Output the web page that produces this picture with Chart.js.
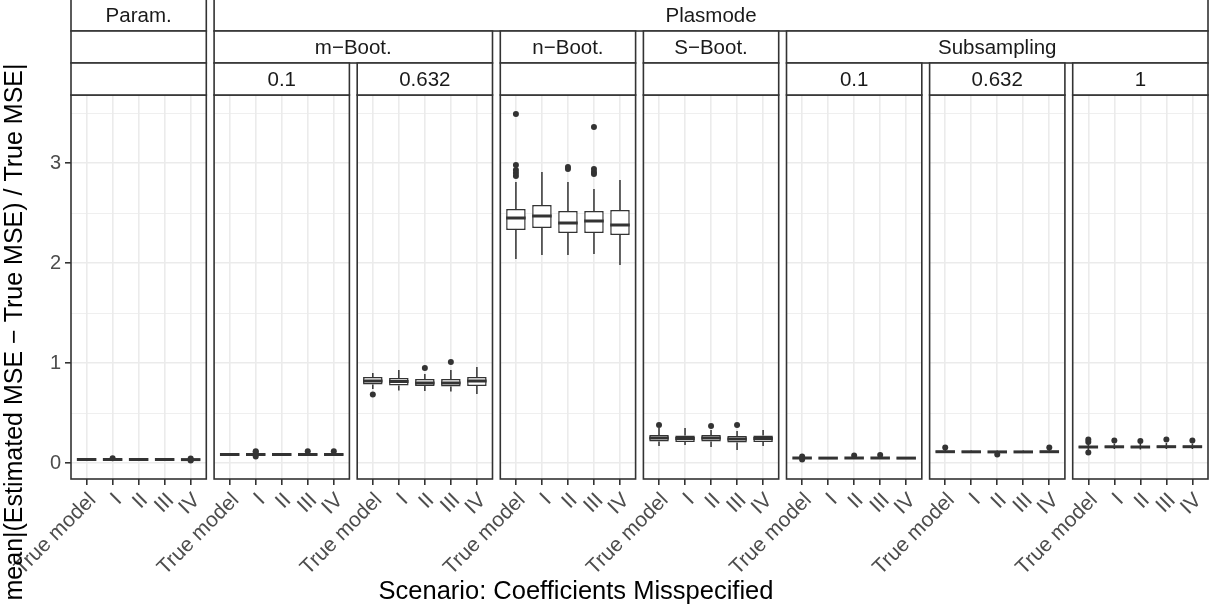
<!DOCTYPE html>
<html>
<head>
<meta charset="utf-8">
<script src="https://cdn.jsdelivr.net/npm/chart.js@4/dist/chart.umd.min.js"></script>
<style>
  html, body { margin: 0; padding: 0; background: #fff; }
  canvas { display: block; }
</style>
</head>
<body>
<canvas id="boxChart" width="1215" height="610"></canvas>
<script>
// categories on every panel
var categories = ['True model', 'I', 'II', 'III', 'IV'];

// strip labels: [label, first panel, last panel]
var stripRow1 = [['Param.', 0, 0], ['Plasmode', 1, 7]];
var stripRow2 = [['', 0, 0], ['m\u2212Boot.', 1, 2], ['n\u2212Boot.', 3, 3], ['S\u2212Boot.', 4, 4], ['Subsampling', 5, 7]];
var stripRow3 = [['', 0, 0], ['0.1', 1, 1], ['0.632', 2, 2], ['', 3, 3], ['', 4, 4], ['0.1', 5, 5], ['0.632', 6, 6], ['1', 7, 7]];

var yTicks = [0, 0.5, 1, 1.5, 2, 2.5, 3, 3.5];
var xTitle = 'Scenario: Coefficients Misspecified';
var yTitle = 'mean|(Estimated MSE \u2212 True MSE) / True MSE|';

// box stats per category: [lower whisker, q1, median, q3, upper whisker]
var paramStats = [[0.028, 0.032, 0.035, 0.038, 0.043], [0.027, 0.031, 0.035, 0.038, 0.044], [0.028, 0.032, 0.035, 0.038, 0.043], [0.028, 0.032, 0.035, 0.038, 0.043], [0.027, 0.031, 0.034, 0.038, 0.043]];
var paramOut = [[], [0.048], [], [], [0.024, 0.03, 0.045]];

var mBoot01Stats = [[0.077, 0.082, 0.085, 0.088, 0.093], [0.075, 0.081, 0.085, 0.088, 0.095], [0.077, 0.082, 0.085, 0.088, 0.093], [0.076, 0.082, 0.085, 0.089, 0.096], [0.076, 0.082, 0.085, 0.089, 0.096]];
var mBoot01Out = [[], [0.065, 0.11, 0.118], [], [0.117], [0.117]];

var mBoot0632Stats = [[0.74, 0.785, 0.82, 0.86, 0.9], [0.725, 0.775, 0.815, 0.85, 0.93], [0.72, 0.77, 0.8, 0.84, 0.89], [0.715, 0.765, 0.8, 0.84, 0.93], [0.69, 0.77, 0.82, 0.86, 0.96]];
var mBoot0632Out = [[0.685], [], [0.95], [1.01], []];

var nBootStats = [[2.04, 2.33, 2.45, 2.54, 2.81], [2.08, 2.35, 2.47, 2.58, 2.91], [2.08, 2.3, 2.4, 2.52, 2.81], [2.09, 2.3, 2.42, 2.52, 2.74], [1.98, 2.28, 2.38, 2.53, 2.83]];
var nBootOut = [[2.87, 2.9, 2.93, 2.98, 3.49], [], [2.94, 2.96], [2.89, 2.91, 2.94, 3.36], []];

var sBootStats = [[0.17, 0.215, 0.25, 0.28, 0.35], [0.18, 0.21, 0.245, 0.275, 0.35], [0.16, 0.215, 0.25, 0.28, 0.33], [0.13, 0.205, 0.24, 0.27, 0.32], [0.17, 0.21, 0.245, 0.275, 0.33]];
var sBootOut = [[0.38], [], [0.37], [0.38], []];

var sub01Stats = [[0.042, 0.046, 0.05, 0.053, 0.058], [0.043, 0.046, 0.049, 0.052, 0.056], [0.043, 0.047, 0.05, 0.053, 0.058], [0.043, 0.047, 0.05, 0.053, 0.058], [0.043, 0.046, 0.049, 0.052, 0.056]];
var sub01Out = [[0.035, 0.066], [], [0.075], [0.08], []];

var sub0632Stats = [[0.1, 0.108, 0.113, 0.118, 0.13], [0.1, 0.108, 0.112, 0.117, 0.125], [0.095, 0.106, 0.111, 0.116, 0.125], [0.1, 0.107, 0.111, 0.116, 0.125], [0.1, 0.108, 0.113, 0.118, 0.13]];
var sub0632Out = [[0.155], [], [0.085], [], [0.155]];

var sub1Stats = [[0.13, 0.15, 0.16, 0.17, 0.19], [0.14, 0.152, 0.162, 0.172, 0.195], [0.135, 0.15, 0.16, 0.17, 0.195], [0.14, 0.152, 0.163, 0.173, 0.2], [0.14, 0.153, 0.163, 0.173, 0.195]];
var sub1Out = [[0.105, 0.21, 0.235], [0.225], [0.22], [0.235], [0.225]];

var panelStats = [paramStats, mBoot01Stats, mBoot0632Stats, nBootStats, sBootStats, sub01Stats, sub0632Stats, sub1Stats];
var panelOut = [paramOut, mBoot01Out, mBoot0632Out, nBootOut, sBootOut, sub01Out, sub0632Out, sub1Out];

// each panel spans 5.2 x-units (ggplot discrete expansion), plus a small gap
var STRIDE = 5.5;
var LINE = '#333333';
var GRID = '#EBEBEB';
var FONT = "'Liberation Sans', Arial, Helvetica, sans-serif";

var boxData = [];
var outData = [];
var tickPos = [];
panelStats.forEach(function(stats, p) {
  stats.forEach(function(s, j) {
    var x = p * STRIDE + j + 1;
    tickPos.push(x);
    boxData.push({x: x, y: [s[1], s[3]], s: s});
    panelOut[p][j].forEach(function(v) { outData.push({x: x, y: v}); });
  });
});

function panelEdges(chart, p) {
  var xs = chart.scales.x;
  return [xs.getPixelForValue(p * STRIDE + 0.4), xs.getPixelForValue(p * STRIDE + 5.6)];
}

var facetPlugin = {
  id: 'facets',
  beforeDatasetsDraw: function(chart) {
    // white gaps between panels
    var ctx = chart.ctx, a = chart.chartArea;
    ctx.save();
    ctx.fillStyle = '#fff';
    for (var p = 0; p < panelStats.length - 1; p++) {
      var r = panelEdges(chart, p)[1];
      var l = panelEdges(chart, p + 1)[0];
      ctx.fillRect(r, a.top - 1, l - r, a.bottom - a.top + 2);
    }
    ctx.restore();
  },
  afterDatasetsDraw: function(chart) {
    var ctx = chart.ctx, a = chart.chartArea;
    var ys = chart.scales.y;
    var meta = chart.getDatasetMeta(1);
    ctx.save();
    ctx.strokeStyle = LINE;
    ctx.lineCap = 'butt';
    meta.data.forEach(function(bar, i) {
      var s = boxData[i].s;
      var x = bar.x, hw = bar.width / 2;
      ctx.lineWidth = 1.5;
      ctx.beginPath();
      ctx.moveTo(x, ys.getPixelForValue(s[3]));
      ctx.lineTo(x, ys.getPixelForValue(s[4]));
      ctx.moveTo(x, ys.getPixelForValue(s[1]));
      ctx.lineTo(x, ys.getPixelForValue(s[0]));
      ctx.stroke();
      ctx.lineWidth = 3;
      ctx.beginPath();
      var ym = ys.getPixelForValue(s[2]);
      ctx.moveTo(x - hw, ym);
      ctx.lineTo(x + hw, ym);
      ctx.stroke();
    });
    // panel borders
    ctx.lineWidth = 1.6;
    for (var p = 0; p < panelStats.length; p++) {
      var e = panelEdges(chart, p);
      ctx.strokeRect(e[0], a.top, e[1] - e[0], a.bottom - a.top);
    }
    ctx.restore();
  },
  afterDraw: function(chart) {
    var ctx = chart.ctx, a = chart.chartArea;
    var rowH = 32;
    ctx.save();
    ctx.font = '20.5px ' + FONT;
    ctx.textAlign = 'center';
    ctx.textBaseline = 'middle';
    [stripRow1, stripRow2, stripRow3].forEach(function(row, k) {
      var top = a.top - (3 - k) * rowH;
      row.forEach(function(st) {
        var l = panelEdges(chart, st[1])[0];
        var r = panelEdges(chart, st[2])[1];
        ctx.fillStyle = '#fff';
        ctx.fillRect(l, top, r - l, rowH);
        ctx.strokeStyle = LINE;
        ctx.lineWidth = 1.6;
        ctx.strokeRect(l, top, r - l, rowH);
        if (st[0]) {
          ctx.fillStyle = '#1A1A1A';
          ctx.fillText(st[0], (l + r) / 2, top + rowH / 2 + 1);
        }
      });
    });
    // axis titles
    ctx.fillStyle = '#000';
    ctx.font = '25.5px ' + FONT;
    ctx.fillText(xTitle, 576, 592);
    ctx.font = '25px ' + FONT;
    ctx.translate(15, 332);
    ctx.rotate(-Math.PI / 2);
    ctx.fillText(yTitle, 0, 0);
    ctx.restore();
  }
};

var chart = new Chart(document.getElementById('boxChart'), {
  type: 'bar',
  data: {
    datasets: [
      {
        type: 'scatter',
        data: outData,
        pointRadius: 3,
        pointBackgroundColor: LINE,
        pointBorderWidth: 0,
        showLine: false
      },
      {
        type: 'bar',
        data: boxData,
        backgroundColor: '#fff',
        borderColor: LINE,
        borderWidth: 1.5,
        borderSkipped: false,
        barPercentage: 0.75,
        categoryPercentage: 1
      }
    ]
  },
  options: {
    responsive: false,
    devicePixelRatio: 1,
    animation: false,
    events: [],
    layout: { padding: { top: 95, right: 7, left: 0, bottom: 0 } },
    plugins: { legend: { display: false }, tooltip: { enabled: false } },
    scales: {
      x: {
        type: 'linear',
        offset: false,
        min: 0.4,
        max: (panelStats.length - 1) * STRIDE + 5.6,
        afterBuildTicks: function(s) { s.ticks = tickPos.map(function(v) { return {value: v}; }); },
        afterFit: function(s) { s.height = 131; s.paddingLeft = 0; s.paddingRight = 0; },
        ticks: {
          autoSkip: false,
          minRotation: 45,
          maxRotation: 45,
          padding: 3,
          labelOffset: 6,
          color: '#4D4D4D',
          font: { family: FONT, size: 21 },
          callback: function(v, i) { return categories[i % categories.length]; }
        },
        grid: { offset: false, color: GRID, lineWidth: 1.6, tickColor: LINE, tickLength: 6 },
        border: { display: false }
      },
      y: {
        min: -0.16,
        max: 3.68,
        afterBuildTicks: function(s) { s.ticks = yTicks.map(function(v) { return {value: v}; }); },
        afterFit: function(s) { s.width = 71; s.paddingTop = 0; s.paddingBottom = 0; },
        ticks: {
          padding: 4,
          color: '#4D4D4D',
          font: { family: FONT, size: 20 },
          callback: function(v) { return Number.isInteger(v) ? String(v) : ''; }
        },
        grid: {
          color: GRID,
          lineWidth: function(c) { return Number.isInteger(c.tick.value) ? 1.6 : 0.8; },
          tickColor: function(c) { return Number.isInteger(c.tick.value) ? LINE : 'rgba(0,0,0,0)'; },
          tickLength: 6
        },
        border: { display: false }
      }
    }
  },
  plugins: [facetPlugin]
});
</script>
</body>
</html>
